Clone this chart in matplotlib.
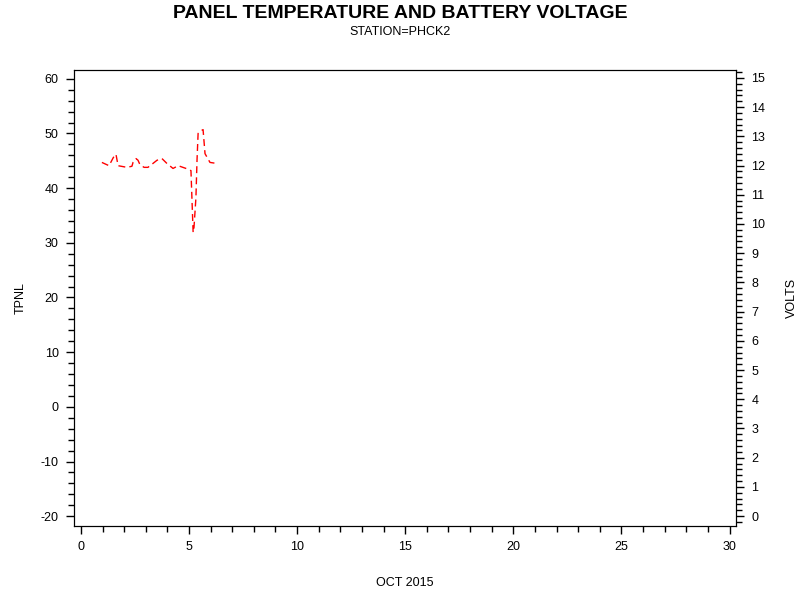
import numpy as np
import matplotlib
matplotlib.use('Agg')
import matplotlib.pyplot as plt
from matplotlib.ticker import MultipleLocator

plt.rcParams['font.family'] = ['Liberation Sans', 'DejaVu Sans']
plt.rcParams['axes.unicode_minus'] = False

# Temperatura do painel (dias de outubro 2015)
dias = [0.97, 1.3, 1.5, 1.62, 1.72, 2.13, 2.36, 2.41, 2.55, 2.64, 2.73, 2.92, 3.1, 3.2,
        3.52, 3.75, 3.98, 4.26, 4.5, 4.86, 5.09, 5.19, 5.23, 5.32, 5.37, 5.42, 5.56,
        5.65, 5.74, 5.97, 6.3]
tpnl = [44.7, 44.1, 45.6, 46.2, 44.1, 43.8, 44.0, 44.7, 45.4, 45.1, 44.3, 43.8, 43.8, 44.1,
        45.1, 45.4, 44.5, 43.6, 44.1, 43.6, 43.2, 31.9, 32.8, 38.3, 45.1, 50.0, 50.5,
        50.7, 46.3, 44.7, 44.5]

fig = plt.figure(figsize=(8, 6), dpi=100)
ax = fig.add_axes([0.0925, 0.1233, 0.8275, 0.76])

ax.plot(dias, tpnl, color='red', linewidth=1, linestyle=(0, (5, 3)))

ax.set_xlim(-0.32, 30.3)
ax.set_ylim(-21.8, 61.6)
ax.xaxis.set_major_locator(MultipleLocator(5))
ax.xaxis.set_minor_locator(MultipleLocator(1))
ax.yaxis.set_major_locator(MultipleLocator(10))
ax.yaxis.set_minor_locator(MultipleLocator(2))
ax.tick_params(which='major', length=6, width=1, labelsize=9, direction='out', pad=5)
ax.tick_params(which='minor', length=4, width=1, direction='out')
ax.set_ylabel('TPNL', fontsize=9)
ax.yaxis.set_label_coords(-0.072, 0.5)
ax.set_xlabel('OCT 2015', fontsize=9)
ax.xaxis.set_label_coords(0.5, -0.112)

# Eixo direito - tensão da bateria
ax2 = ax.twinx()
ax2.set_ylim(-0.34, 15.27)
ax2.yaxis.set_major_locator(MultipleLocator(1))
ax2.yaxis.set_minor_locator(MultipleLocator(0.2))
ax2.tick_params(which='major', length=6, width=1, labelsize=9, direction='out', pad=5)
ax2.tick_params(which='minor', length=4, width=1, direction='out')
ax2.set_ylabel('VOLTS', fontsize=9)
ax2.yaxis.set_label_coords(1.076, 0.5)

fig.text(0.5, 0.978, 'PANEL TEMPERATURE AND BATTERY VOLTAGE', ha='center', va='center',
         fontsize=14, fontweight='bold')
fig.text(0.5, 0.947, 'STATION=PHCK2', ha='center', va='center', fontsize=9)

fig.savefig('out.png', dpi=100)
